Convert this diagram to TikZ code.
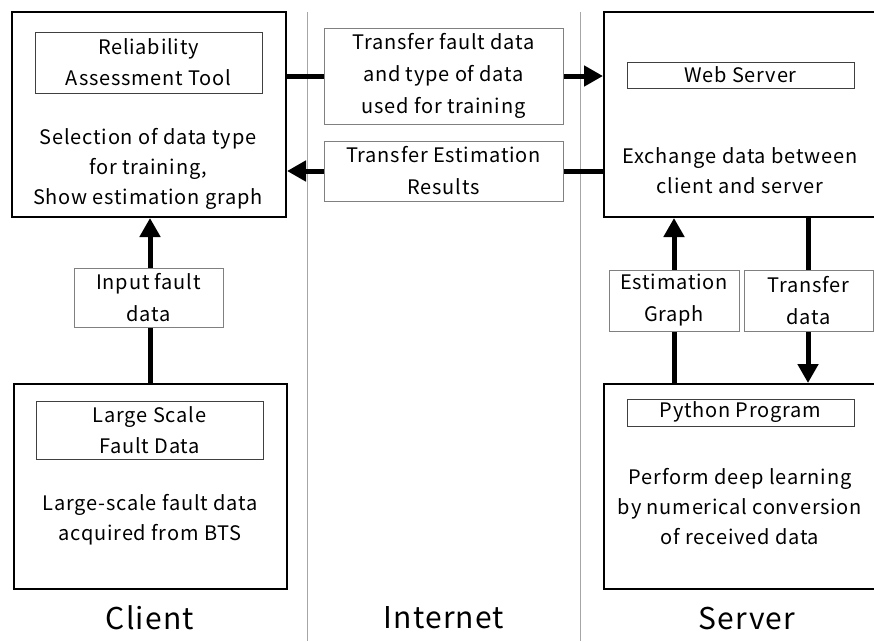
\documentclass[tikz,border=0pt]{standalone}
\usepackage{fontspec}
\setmainfont{Noto Sans CJK JP}[LetterSpace=4]
\usetikzlibrary{arrows.meta}
\begin{document}
\begin{tikzpicture}[x=1pt,y=-1pt,
  body/.style={font=\fontsize{20}{30}\selectfont, align=center},
  outerbox/.style={draw=black, line width=2pt, inner sep=0pt, anchor=center},
  innerbox/.style={draw=black!75, line width=1pt, inner sep=0pt, align=center,
    font=\fontsize{20}{31}\selectfont},
  labelbox/.style={draw=black!50, line width=0.9pt, fill=white, inner sep=0pt,
    align=center, font=\fontsize{20}{32}\selectfont},
  flow/.style={line width=5pt, -{Triangle[length=19pt,width=20pt]}},
  divider/.style={draw=black!35, line width=1pt},
  region/.style={font=\fontsize{30}{36}\selectfont}
]
\useasboundingbox (0,0) rectangle (874,641);
\clip (0,0) rectangle (874,641);

% column dividers
\coordinate (d1t) at (307,12);
\coordinate (d1b) at (307,641);
\coordinate (d2t) at (580,12);
\coordinate (d2b) at (580,641);
\draw[divider] (d1t) -- (d1b);
\draw[divider] (d2t) -- (d2b);

% client side
\node[outerbox, minimum width=274pt, minimum height=205pt] (rat) at (149,114.5) {};
\node[innerbox, minimum width=227pt, minimum height=61pt] (ratT) at (148.5,62.5)
  {Reliability\\Assessment Tool};
\node[body] (ratB) at (148,169) {Selection of data type\\for training,\\Show estimation graph};

\node[outerbox, minimum width=273pt, minimum height=205pt] (fd) at (150.5,486.5) {};
\node[innerbox, minimum width=227pt, minimum height=58pt] (fdT) at (149.5,430)
  {Large Scale\\Fault Data};
\node[body] (fdB) at (150,520) {Large-scale fault data\\acquired from BTS};

% server side
\node[outerbox, minimum width=280pt, minimum height=205pt] (ws) at (744,114.5) {};
\node[innerbox, minimum width=227pt, minimum height=26pt] (wsT) at (740.5,75) {Web Server};
\node[body] (wsB) at (740,171) {Exchange data between\\client and server};

\node[outerbox, minimum width=280pt, minimum height=205pt] (py) at (744,486.5) {};
\node[innerbox, minimum width=227pt, minimum height=27pt] (pyT) at (740.5,412.5) {Python Program};
\node[body] (pyB) at (740,507) {Perform deep learning\\by numerical conversion\\of received data};

% connectors
\coordinate (yA) at (0,76);
\coordinate (yB) at (0,171);
\coordinate (xIn) at (150,0);
\coordinate (xUp) at (674,0);
\coordinate (xDn) at (808,0);
\draw[flow] (rat.east |- yA) -- (ws.west |- yA);
\draw[flow] (ws.west |- yB) -- (rat.east |- yB);
\draw[flow] (xIn |- fd.north) -- (xIn |- rat.south);
\draw[flow] (xUp |- py.north) -- (xUp |- ws.south);
\draw[flow] (xDn |- ws.south) -- (xDn |- py.north);

% connector labels
\node[labelbox, minimum width=239pt, minimum height=96pt] (lA) at (443.5,76)
  {Transfer fault data\\and type of data\\used for training};
\node[labelbox, minimum width=239pt, minimum height=60pt] (lB) at (443.5,171)
  {Transfer Estimation\\Results};
\node[labelbox, minimum width=149pt, minimum height=59pt] (lIn) at (148.5,297.5)
  {Input fault\\data};
\node[labelbox, minimum width=130pt, minimum height=61pt] (lUp) at (674,300.5)
  {Estimation\\Graph};
\node[labelbox, minimum width=129pt, minimum height=61pt] (lDn) at (808.5,300.5)
  {Transfer\\data};

% region titles
\node[region] (tClient) at (150,618) {Client};
\node[region] (tNet) at (444,618) {Internet};
\node[region] (tServer) at (747,618) {Server};
\end{tikzpicture}
\end{document}
